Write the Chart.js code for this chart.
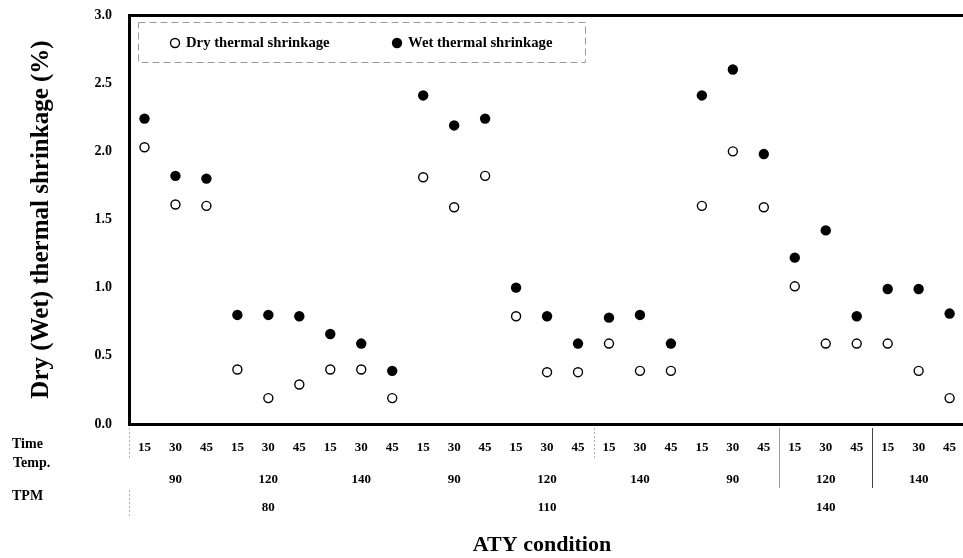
<!DOCTYPE html>
<html>
<head>
<meta charset="utf-8">
<script src="https://cdn.jsdelivr.net/npm/chart.js@4.4.1/dist/chart.umd.min.js"></script>
<style>
html, body { margin: 0; padding: 0; background: #fff; overflow: hidden; }
#frame { width: 963px; height: 558px; overflow: hidden; position: relative; }
#myChart { position: absolute; left: 0; top: 0; }
</style>
</head>
<body>
<!-- the plot runs a few pixels past the right edge of the picture, as in the scan -->
<div id="frame"><canvas id="myChart" width="971" height="558"></canvas></div>
<script>
// tick labels for the three rows under the plot
var timeLabels = ['15','30','45','15','30','45','15','30','45',
                  '15','30','45','15','30','45','15','30','45',
                  '15','30','45','15','30','45','15','30','45'];
var tempLabels = ['','90','','','120','','','140','',
                  '','90','','','120','','','140','',
                  '','90','','','120','','','140',''];
var tpmLabels = ['','','','','80','','','','',
                 '','','','','110','','','','',
                 '','','','','140','','','',''];

// values (%)
var dryShrink = [2.03, 1.61, 1.60, 0.40, 0.19, 0.29, 0.40, 0.40, 0.19,
                 1.81, 1.59, 1.82, 0.79, 0.38, 0.38, 0.59, 0.39, 0.39,
                 1.60, 2.00, 1.59, 1.01, 0.59, 0.59, 0.59, 0.39, 0.19];
var wetShrink = [2.24, 1.82, 1.80, 0.80, 0.80, 0.79, 0.66, 0.59, 0.39,
                 2.41, 2.19, 2.24, 1.00, 0.79, 0.59, 0.78, 0.80, 0.59,
                 2.41, 2.60, 1.98, 1.22, 1.42, 0.79, 0.99, 0.99, 0.81];

var serif = "'Liberation Serif', 'Times New Roman', serif";

// dashed box with the two series keys, top-left inside the plot
var legendBox = {
    id: 'legendBox',
    afterDatasetsDraw: function(chart) {
        var ctx = chart.ctx;
        var a = chart.chartArea;
        var x0 = a.left + 9, y0 = a.top + 7;
        ctx.save();
        ctx.strokeStyle = '#9a9a9a';
        ctx.lineWidth = 1;
        ctx.setLineDash([7, 4]);
        ctx.strokeRect(x0 + 0.5, y0 + 0.5, 447, 40);
        ctx.setLineDash([]);
        var offs = [37, 259];
        ctx.font = 'bold 14.7px ' + serif;
        ctx.textBaseline = 'middle';
        ctx.fillStyle = '#000';
        chart.data.datasets.forEach(function(ds, i) {
            var cx = x0 + offs[i], cy = y0 + 21;
            ctx.beginPath();
            ctx.arc(cx, cy, ds.pointRadius, 0, Math.PI * 2);
            ctx.fillStyle = ds.backgroundColor;
            ctx.fill();
            ctx.lineWidth = ds.borderWidth;
            ctx.strokeStyle = ds.borderColor;
            if (ds.borderWidth > 0) ctx.stroke();
            ctx.fillStyle = '#000';
            ctx.fillText(ds.label, cx + 11, cy);
        });
        ctx.restore();
    }
};

// row names, x title and the thin separators between groups
var axisText = {
    id: 'axisText',
    afterDraw: function(chart) {
        var ctx = chart.ctx;
        var b = chart.chartArea.bottom;
        var x = chart.scales.x;
        ctx.save();
        ctx.font = 'bold 14px ' + serif;
        ctx.fillStyle = '#000';
        ctx.textBaseline = 'middle';
        ctx.fillText('Time', 12, b + 20);
        ctx.fillText('Temp.', 13, b + 39);
        ctx.fillText('TPM', 12, b + 72);

        // the title sits left of the plot centre in the scan
        ctx.font = 'bold 22px ' + serif;
        ctx.textAlign = 'center';
        ctx.fillText('ATY condition', 542, b + 121);
        ctx.textAlign = 'left';

        function edge(i) {
            return Math.round((x.getPixelForValue(i - 1) + x.getPixelForValue(i)) / 2) + 0.5;
        }
        function vline(px, y1, y2, color, dash) {
            ctx.beginPath();
            ctx.setLineDash(dash);
            ctx.strokeStyle = color;
            ctx.lineWidth = 1;
            ctx.moveTo(px, y1);
            ctx.lineTo(px, y2);
            ctx.stroke();
        }
        var left = Math.round(chart.chartArea.left) + 0.5;
        vline(left, b + 4, b + 36, '#b0b0b0', [2, 2]);
        vline(left, b + 66, b + 92, '#b0b0b0', [2, 2]);
        vline(edge(15), b + 4, b + 36, '#b0b0b0', [2, 2]);
        vline(edge(21), b + 4, b + 64, '#999', []);
        vline(edge(24), b + 4, b + 64, '#444', []);
        ctx.restore();
    }
};

// no extra room for tick overhang: the plot edges are fixed
function noPadX(scale, h) {
    scale.height = h;
    scale.paddingLeft = 0;
    scale.paddingRight = 0;
}

var ctx = document.getElementById('myChart').getContext('2d');

var myChart = new Chart(ctx, {
    type: 'line',
    data: {
        labels: timeLabels,
        datasets: [{
            label: 'Dry thermal shrinkage',
            data: dryShrink,
            showLine: false,
            pointStyle: 'circle',
            pointRadius: 4.5,
            backgroundColor: '#fff',
            borderColor: '#000',
            borderWidth: 1.4,
            pointBackgroundColor: '#fff',
            pointBorderColor: '#000',
            pointBorderWidth: 1.4
        }, {
            label: 'Wet thermal shrinkage',
            data: wetShrink,
            showLine: false,
            pointStyle: 'circle',
            pointRadius: 5.2,
            backgroundColor: '#000',
            borderColor: '#000',
            borderWidth: 0,
            pointBackgroundColor: '#000',
            pointBorderColor: '#000',
            pointBorderWidth: 0
        }]
    },
    options: {
        responsive: false,
        animation: false,
        events: [],
        layout: { padding: { top: 15, left: 0, right: 0, bottom: 0 } },
        plugins: {
            legend: { display: false },
            tooltip: { enabled: false }
        },
        scales: {
            x: {
                type: 'category',
                labels: timeLabels,
                position: 'bottom',
                weight: 0,
                offset: true,
                afterFit: function(scale) { noPadX(scale, 31); },
                grid: { display: false, drawTicks: false, offset: true },
                border: { display: true, color: '#000', width: 3 },
                ticks: {
                    autoSkip: false, maxRotation: 0, padding: 16,
                    color: '#000', font: { family: serif, size: 13, weight: 'bold' }
                }
            },
            x2: {
                type: 'category',
                labels: tempLabels,
                position: 'bottom',
                weight: 1,
                offset: true,
                afterFit: function(scale) { noPadX(scale, 32); },
                grid: { display: false, drawTicks: false, offset: true },
                border: { display: false },
                ticks: {
                    autoSkip: false, maxRotation: 0, padding: 17,
                    color: '#000', font: { family: serif, size: 13, weight: 'bold' }
                }
            },
            x3: {
                type: 'category',
                labels: tpmLabels,
                position: 'bottom',
                weight: 2,
                offset: true,
                afterFit: function(scale) { noPadX(scale, 71); },
                grid: { display: false, drawTicks: false, offset: true },
                border: { display: false },
                ticks: {
                    autoSkip: false, maxRotation: 0, padding: 13,
                    color: '#000', font: { family: serif, size: 13, weight: 'bold' }
                }
            },
            y: {
                min: 0,
                max: 3,
                afterFit: function(scale) {
                    scale.width = 129;
                    scale.paddingTop = 0;
                    scale.paddingBottom = 0;
                },
                grid: {
                    drawTicks: false,
                    color: function(c) { return c.tick && c.tick.value === 3 ? '#000' : 'rgba(0,0,0,0)'; },
                    lineWidth: 3
                },
                border: { display: true, color: '#000', width: 3 },
                ticks: {
                    stepSize: 0.5,
                    padding: 17,
                    color: '#000',
                    font: { family: serif, size: 14, weight: 'bold' },
                    callback: function(v) { return v.toFixed(1); }
                },
                title: {
                    display: true,
                    text: 'Dry (Wet) thermal shrinkage (%)',
                    color: '#000',
                    font: { family: serif, size: 25, weight: 'bold' },
                    padding: { top: 27, bottom: 0 }
                }
            }
        }
    },
    plugins: [legendBox, axisText]
});
</script>
</body>
</html>
